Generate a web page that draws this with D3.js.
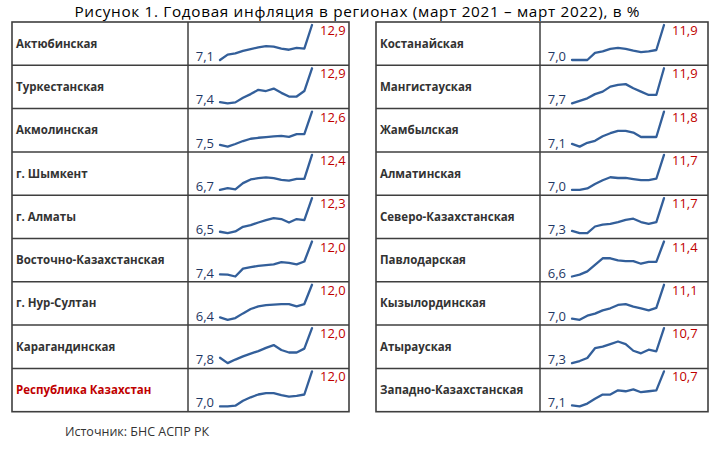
<!DOCTYPE html>
<html>
<head>
<meta charset="utf-8">
<script src="https://cdn.jsdelivr.net/npm/d3@7.9.0/dist/d3.min.js"></script>
<style>
  body { margin: 0; background: #fff; }
  svg { display: block; font-family: "Open Sans", "Noto Sans", sans-serif; }
</style>
</head>
<body>
<svg id="chart" width="720" height="451"></svg>
<script>
const title = 'Рисунок 1. Годовая инфляция в регионах (март 2021 – март 2022), в %';
const source = 'Источник: БНС АСПР РК';

// months: march 2021 .. march 2022
const months = ['03.21', '04.21', '05.21', '06.21', '07.21', '08.21', '09.21',
                '10.21', '11.21', '12.21', '01.22', '02.22', '03.22'];

const regionsLeft = ['Актюбинская', 'Туркестанская', 'Акмолинская', 'г. Шымкент', 'г. Алматы',
  'Восточно-Казахстанская', 'г. Нур-Султан', 'Карагандинская', 'Республика Казахстан'];

const seriesLeft = [
  [7.1, 8.0, 8.2, 8.6, 8.9, 9.2, 9.4, 9.3, 9.0, 8.8, 9.1, 9.0, 12.9],
  [7.4, 7.2, 7.35, 8.1, 8.7, 9.4, 9.2, 9.6, 8.9, 8.3, 8.3, 9.2, 12.9],
  [7.5, 7.25, 7.65, 8.1, 8.45, 8.6, 8.7, 8.8, 8.9, 8.75, 9.15, 9.15, 12.6],
  [6.7, 7.0, 6.8, 7.8, 8.4, 8.6, 8.75, 8.6, 8.35, 8.2, 8.5, 8.5, 12.4],
  [6.5, 6.25, 6.55, 7.35, 7.65, 8.1, 8.5, 8.85, 8.7, 8.1, 8.7, 8.5, 12.3],
  [7.4, 7.35, 7.1, 8.2, 8.4, 8.6, 8.7, 8.8, 9.1, 9.0, 8.8, 9.2, 12.0],
  [6.4, 6.0, 6.3, 7.1, 7.85, 8.3, 8.5, 8.6, 8.7, 8.7, 8.3, 8.7, 12.0],
  [7.8, 7.05, 7.55, 8.0, 8.4, 8.75, 9.2, 9.6, 8.9, 8.55, 8.55, 9.1, 12.0],
  [7.0, 7.0, 7.1, 7.8, 8.3, 8.7, 8.9, 8.9, 8.6, 8.4, 8.5, 8.7, 12.0]
];

const regionsRight = ['Костанайская', 'Мангистауская', 'Жамбылская', 'Алматинская',
  'Северо-Казахстанская', 'Павлодарская', 'Кызылординская', 'Атырауская', 'Западно-Казахстанская'];

const seriesRight = [
  [7.0, 7.0, 7.0, 8.0, 8.2, 8.55, 8.7, 8.55, 8.3, 8.1, 8.2, 8.4, 11.9],
  [7.7, 8.0, 8.3, 8.8, 9.1, 9.7, 9.9, 10.0, 9.5, 9.1, 8.7, 8.7, 11.9],
  [7.1, 6.7, 7.25, 7.55, 8.2, 8.65, 9.0, 9.0, 8.75, 8.1, 8.1, 8.1, 11.8],
  [7.0, 7.0, 7.2, 7.8, 8.3, 8.7, 8.6, 8.6, 8.45, 8.3, 8.3, 8.5, 11.7],
  [7.3, 7.0, 7.0, 7.9, 8.15, 8.25, 8.5, 8.8, 8.95, 8.5, 8.25, 8.5, 11.7],
  [6.6, 6.85, 7.3, 8.2, 9.1, 9.1, 8.8, 8.7, 8.7, 8.35, 8.6, 8.6, 11.4],
  [7.0, 6.85, 7.35, 7.6, 8.0, 8.25, 8.65, 8.75, 8.45, 8.25, 8.0, 8.3, 11.1],
  [7.3, 7.5, 7.8, 8.75, 8.9, 9.15, 9.4, 9.15, 8.5, 8.25, 8.6, 8.45, 10.7],
  [7.1, 7.0, 7.3, 7.8, 8.25, 8.25, 8.7, 8.6, 8.8, 8.5, 8.6, 8.7, 10.7]
];

const highlight = 'Республика Казахстан';

const svg = d3.select('#chart');
const fmt = (v) => v.toFixed(1).replace('.', ',');

// title, spread to the width of the original
svg.append('text')
  .attr('x', 357).attr('y', 16.5)
  .attr('text-anchor', 'middle')
  .attr('font-size', 15.3)
  .attr('textLength', 565)
  .attr('lengthAdjust', 'spacing')
  .attr('fill', '#000')
  .text(title);

const tableTop = 22, rowH = 43.3;

function drawTable(regions, series, left, divider, right) {
  const g = svg.append('g');
  const n = regions.length;
  const bottom = tableTop + rowH * n;

  const x = d3.scalePoint().domain(months).range([divider + 32, divider + 124]);

  regions.forEach((name, i) => {
    const rowTop = tableTop + rowH * i;
    const vals = series[i];
    const y = d3.scaleLinear().domain(d3.extent(vals)).range([rowTop + 38, rowTop + 3]);

    g.append('text')
      .attr('x', left + 4)
      .attr('y', rowTop + rowH / 2 + 4)
      .attr('font-size', 11.5)
      .attr('font-weight', 'bold')
      .attr('fill', name === highlight ? '#c00000' : '#333')
      .text(name);

    g.append('path')
      .datum(vals)
      .attr('d', d3.line().x((d, k) => x(months[k])).y((d) => y(d)))
      .attr('fill', 'none')
      .attr('stroke', '#335f9a')
      .attr('stroke-width', 2.3)
      .attr('stroke-linejoin', 'round')
      .attr('stroke-linecap', 'round');

    g.append('text')
      .attr('x', x(months[0]) - 6)
      .attr('y', rowTop + 39)
      .attr('text-anchor', 'end')
      .attr('font-size', 13)
      .attr('fill', '#1f3864')
      .text(fmt(vals[0]));

    g.append('text')
      .attr('x', x(months[months.length - 1]) + 8)
      .attr('y', rowTop + 13)
      .attr('font-size', 13)
      .attr('fill', '#c00000')
      .text(fmt(vals[vals.length - 1]));
  });

  // grid lines
  d3.range(1, n).forEach((i) => {
    g.append('line')
      .attr('x1', left).attr('x2', right)
      .attr('y1', tableTop + rowH * i).attr('y2', tableTop + rowH * i)
      .attr('stroke', '#3f3f3f').attr('stroke-width', 1.5);
  });
  g.append('line')
    .attr('x1', divider).attr('x2', divider)
    .attr('y1', tableTop).attr('y2', bottom)
    .attr('stroke', '#3f3f3f').attr('stroke-width', 1.5);
  g.append('rect')
    .attr('x', left).attr('y', tableTop)
    .attr('width', right - left).attr('height', bottom - tableTop)
    .attr('fill', 'none')
    .attr('stroke', '#3f3f3f').attr('stroke-width', 1.6);
}

drawTable(regionsLeft, seriesLeft, 12, 188, 349);
drawTable(regionsRight, seriesRight, 376, 540, 708);

svg.append('text')
  .attr('x', 65).attr('y', 436)
  .attr('font-size', 12.5)
  .attr('fill', '#333')
  .text(source);
</script>
</body>
</html>
